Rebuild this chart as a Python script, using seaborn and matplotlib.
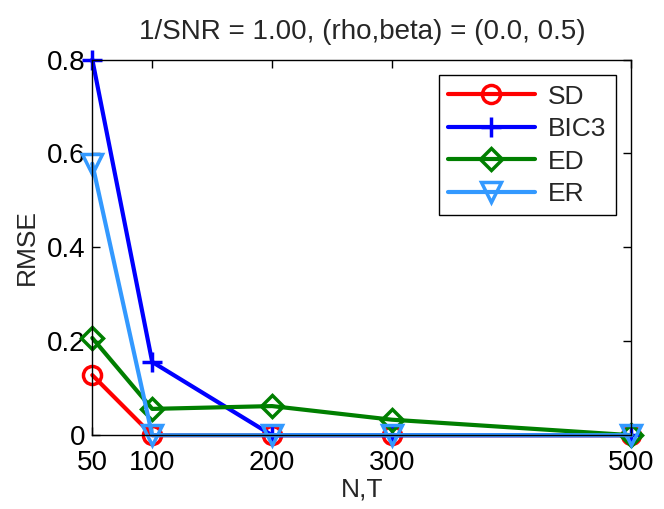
import pandas as pd
import matplotlib
matplotlib.use("Agg")
import matplotlib.pyplot as plt
import seaborn as sns

# data
n_t = [50, 100, 200, 300, 500]
rmse_sd = [0.128, 0.0, 0.0, 0.0, 0.0]
rmse_bic3 = [0.80, 0.156, 0.0, 0.0, 0.0]
rmse_ed = [0.207, 0.056, 0.062, 0.033, 0.0]
rmse_er = [0.578, 0.0, 0.0, 0.0, 0.0]
methods = ["SD", "BIC3", "ED", "ER"]
x_ticks = [50, 100, 200, 300, 500]
y_ticks = [0, 0.2, 0.4, 0.6, 0.8]
y_tick_labels = ["0", "0.2", "0.4", "0.6", "0.8"]

sns.set_style("white")
plt.rcParams["font.family"] = ["Liberation Sans", "DejaVu Sans"]

series = {"SD": rmse_sd, "BIC3": rmse_bic3, "ED": rmse_ed, "ER": rmse_er}
colors = {"SD": "#ff0000", "BIC3": "#0000ff", "ED": "#007f00", "ER": "#3399ff"}
markers = {"SD": "o", "BIC3": "+", "ED": "D", "ER": "v"}
sizes = {"SD": 13, "BIC3": 14, "ED": 11, "ER": 14}

df = pd.DataFrame([(m, x, y) for m in methods for x, y in zip(n_t, series[m])],
                  columns=["method", "N,T", "RMSE"])

fig, ax = plt.subplots(figsize=(6.64, 5.09), dpi=100)
fig.subplots_adjust(left=0.139, right=0.951, top=0.883, bottom=0.145)

for m in methods:
    sub = df[df["method"] == m]
    sns.lineplot(data=sub, x="N,T", y="RMSE", ax=ax, color=colors[m], label=m,
                 linewidth=3, marker=markers[m], markersize=sizes[m],
                 markerfacecolor="none", markeredgecolor=colors[m],
                 markeredgewidth=2.5, clip_on=False)

ax.set_xlim(50, 500)
ax.set_ylim(0, 0.8)
ax.set_xticks(x_ticks)
ax.set_yticks(y_ticks)
ax.set_yticklabels(y_tick_labels)
ax.tick_params(direction="in", length=6, width=1, labelsize=20,
               top=True, right=True, bottom=True, left=True, colors="black")
ax.tick_params(axis="x", pad=11)
ax.tick_params(axis="y", pad=5)
for s in ax.spines.values():
    s.set_visible(True)
    s.set_color("black")
    s.set_linewidth(1)

ax.set_title("1/SNR = 1.00, (rho,beta) = (0.0, 0.5)", fontsize=20, pad=15)
ax.set_xlabel("N,T", fontsize=19, labelpad=1)
ax.set_ylabel("RMSE", fontsize=19, labelpad=6)

leg = ax.legend(loc="upper right", fontsize=19, frameon=True, fancybox=False,
                edgecolor="black", framealpha=1, handlelength=3.3,
                borderaxespad=0.6, labelspacing=0.32, handletextpad=0.5,
                borderpad=0.35)
leg.get_frame().set_linewidth(1)

plt.savefig("out.png", dpi=100)
